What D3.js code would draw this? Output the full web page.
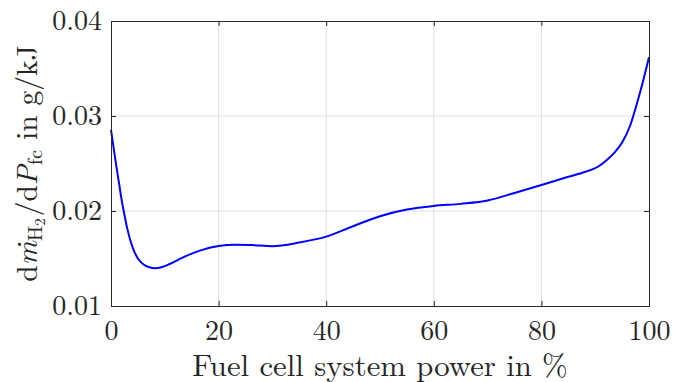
<!DOCTYPE html>
<html>
<head>
<meta charset="utf-8">
<script src="https://cdn.jsdelivr.net/npm/d3@7"></script>
<style>
  html, body { margin: 0; padding: 0; background: #fff; }
  svg { display: block; }
</style>
</head>
<body>
<svg id="chart" width="673" height="382"></svg>
<script>
// Fuel cell system power (% of rated) and incremental hydrogen consumption (g/kJ)
const powerPct = [0, 0.5, 1, 1.5, 2, 2.5, 3, 4, 5, 6, 7, 8.3, 9.5, 11, 13.5, 16.5,
  20, 23, 26, 30, 35, 40, 45, 50, 55, 60, 65, 70, 75, 80, 85, 88, 90.5, 92, 93.5,
  95, 96.5, 98, 99, 100];
const h2Rate = [0.02853, 0.02660, 0.02470, 0.02290, 0.02110, 0.01960, 0.01820, 0.01620,
  0.01500, 0.01440, 0.01410, 0.01397, 0.01410, 0.01445, 0.01515, 0.01583,
  0.01632, 0.01645, 0.01642, 0.01630, 0.01668, 0.01730, 0.01840, 0.01945, 0.02015,
  0.02053, 0.02075, 0.02110, 0.02190, 0.02274, 0.02360, 0.02410, 0.02466, 0.02530,
  0.02610, 0.02720, 0.02900, 0.03180, 0.03390, 0.03618];

const xTicks = [0, 20, 40, 60, 80, 100];
const yTicks = [0.01, 0.02, 0.03, 0.04];
const xLabel = "Fuel cell system power in %";

const W = 673, H = 382;
const margin = { top: 21, right: 24, bottom: 76, left: 111 };
const iw = W - margin.left - margin.right;
const ih = H - margin.top - margin.bottom;

const FONT = '"Latin Modern Roman", "Liberation Serif", serif';
const tickFont = 28;
const labelFont = 30.8;
const axisColor = "#262626";
const gridColor = "#dfdfdf";

const svg = d3.select("#chart");
const g = svg.append("g").attr("transform", `translate(${margin.left},${margin.top})`);

const x = d3.scaleLinear().domain([0, 100]).range([0, iw]);
const y = d3.scaleLinear().domain([0.01, 0.04]).range([ih, 0]);

// grid
g.append("g").selectAll("line").data(xTicks.slice(1, -1)).join("line")
  .attr("x1", d => x(d)).attr("x2", d => x(d)).attr("y1", 0).attr("y2", ih)
  .attr("stroke", gridColor).attr("stroke-width", 1);
g.append("g").selectAll("line").data(yTicks.slice(1, -1)).join("line")
  .attr("y1", d => y(d)).attr("y2", d => y(d)).attr("x1", 0).attr("x2", iw)
  .attr("stroke", gridColor).attr("stroke-width", 1);

// data curve
const line = d3.line()
  .x((d, i) => x(powerPct[i]))
  .y(d => y(d))
  .curve(d3.curveMonotoneX);
g.append("path").datum(h2Rate)
  .attr("d", line)
  .attr("fill", "none")
  .attr("stroke", "#0000ff")
  .attr("stroke-width", 2)
  .attr("stroke-linejoin", "round");

// axes (ticks inward, mirrored on all sides)
function styleAxis(sel) {
  sel.select(".domain").attr("stroke", axisColor).attr("stroke-width", 1);
  sel.selectAll(".tick line").attr("stroke", axisColor).attr("stroke-width", 1);
  sel.selectAll("text").attr("fill", axisColor)
    .style("font-size", tickFont + "px").style("font-family", FONT);
}

const xAxis = g.append("g").attr("transform", `translate(0,${ih})`)
  .call(d3.axisBottom(x).tickValues(xTicks).tickSize(-5).tickPadding(14).tickFormat(d3.format("d")));
styleAxis(xAxis);

const xAxisTop = g.append("g")
  .call(d3.axisTop(x).tickValues(xTicks).tickSize(-5).tickFormat(""));
styleAxis(xAxisTop);

const yAxis = g.append("g")
  .call(d3.axisLeft(y).tickValues(yTicks).tickSize(-5).tickPadding(9).tickFormat(d3.format(".2f")));
styleAxis(yAxis);

const yAxisRight = g.append("g").attr("transform", `translate(${iw},0)`)
  .call(d3.axisRight(y).tickValues(yTicks).tickSize(-5).tickFormat(""));
styleAxis(yAxisRight);

// x label
svg.append("text")
  .attr("x", margin.left + iw / 2)
  .attr("y", 376)
  .attr("text-anchor", "middle")
  .style("font-size", labelFont + "px")
  .style("font-family", FONT)
  .attr("fill", axisColor)
  .text(xLabel);

// y label: d m-dot_{H2} / d P_fc in g/kJ
const yl = svg.append("text")
  .attr("transform", `translate(36.5,${margin.top + ih / 2}) rotate(-90)`)
  .attr("text-anchor", "middle")
  .style("font-size", "29.5px")
  .style("font-family", FONT)
  .attr("fill", axisColor);
yl.append("tspan").text("d");
yl.append("tspan").style("font-style", "italic").text("\u1E41");
yl.append("tspan").style("font-size", "20.5px").attr("dy", 5).text("H");
yl.append("tspan").style("font-size", "14.8px").attr("dy", 3).text("2");
yl.append("tspan").attr("dy", -8).attr("dx", 2).text("/d");
yl.append("tspan").style("font-style", "italic").text("P");
yl.append("tspan").style("font-size", "20.5px").attr("dy", 5).text("fc");
yl.append("tspan").attr("dy", -5).text(" in g/kJ");
</script>
</body>
</html>
